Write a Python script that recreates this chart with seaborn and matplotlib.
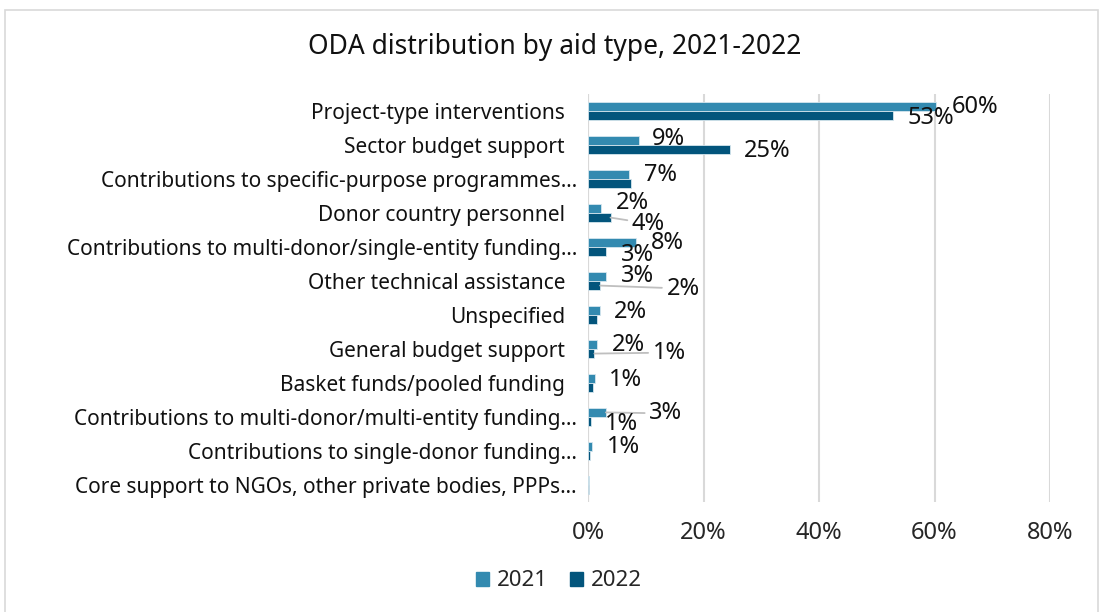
import matplotlib
matplotlib.use("Agg")
import matplotlib.pyplot as plt
import matplotlib.transforms as mtransforms
from matplotlib.patches import Rectangle
import seaborn as sns
import pandas as pd

# Aid types, top to bottom
categories = [
    "Project-type interventions",
    "Sector budget support",
    "Contributions to specific-purpose programmes…",
    "Donor country personnel",
    "Contributions to multi-donor/single-entity funding…",
    "Other technical assistance",
    "Unspecified",
    "General budget support",
    "Basket funds/pooled funding",
    "Contributions to multi-donor/multi-entity funding…",
    "Contributions to single-donor funding…",
    "Core support to NGOs, other private bodies, PPPs…",
]
years = ["2021", "2022"]

# Share of ODA (%)
share_2021 = [60.3, 8.9, 7.1, 2.3, 8.3, 3.2, 2.0, 1.6, 1.2, 3.1, 0.7, 0.1]
share_2022 = [52.8, 24.6, 7.4, 3.9, 3.2, 2.1, 1.6, 1.1, 0.9, 0.6, 0.4, 0.2]

x_ticks = [0, 20, 40, 60, 80]

# Label placement: offset (px) from the end of each bar to the label centre,
# None = label not shown; True in the third slot draws a leader line.
label_offsets_2021 = [(39, 1, False), (29, -1, False), (31, 1, False), (31, -5, False),
                      (31, 1, False), (31, 0, False), (31, 2, False), (31, 1, False),
                      (31, 2, False), (60, 1, True), (31, 1, False), None]
label_offsets_2022 = [(38, 2, False), (37, 1, False), None, (38, 6, True),
                      (31, 3, False), (83, 3, True), None, (75, -1, True),
                      None, (30, 2, False), None, None]

colors = {"2021": "#338AB0", "2022": "#03557C"}

df = pd.DataFrame({
    "category": categories * 2,
    "year": [years[0]] * len(categories) + [years[1]] * len(categories),
    "share": share_2021 + share_2022,
})

sns.set_style("white")
plt.rcParams["font.family"] = ["Noto Sans", "DejaVu Sans"]

fig = plt.figure(figsize=(11.03, 6.12), dpi=100)
ax = fig.add_axes([588 / 1103, 1 - 502 / 612, 462 / 1103, 408 / 612])

sns.barplot(data=df, y="category", x="share", hue="year", order=categories,
            hue_order=years, palette=colors, orient="h", width=0.54,
            edgecolor="#d6e6ee", linewidth=0.6, saturation=1, ax=ax, legend=True)

ax.set_xlim(0, 80)
ax.set_xticks(x_ticks)
ax.set_xticklabels([f"{t}%" for t in x_ticks], fontsize=17)
ax.set_xlabel("")
ax.set_ylabel("")
ax.tick_params(axis="x", pad=14, length=0)
for s in ax.spines.values():
    s.set_visible(False)
ax.grid(axis="x", color="#d9d9d9", linewidth=1.5)
ax.grid(axis="y", visible=False)
ax.set_axisbelow(True)
ax.axvline(0, color="#d9d9d9", linewidth=1.5, zorder=0)

# Category names: truncated names sit a little closer to the axis
y_positions = ax.get_yticks()
ax.set_yticks(y_positions, [""] * len(y_positions))
ax.tick_params(axis="y", length=0)
base = mtransforms.blended_transform_factory(ax.transAxes, ax.transData)
for pos, name in zip(y_positions, categories):
    gap = 11 if name.endswith("…") else 23
    tr = base + mtransforms.ScaledTranslation(-gap / 100, 0, fig.dpi_scale_trans)
    ax.text(0, pos, name, transform=tr, ha="right", va="center_baseline",
            fontsize=15, color="#111111")

# Data labels
for container, values, offsets in zip(ax.containers, [share_2021, share_2022],
                                      [label_offsets_2021, label_offsets_2022]):
    for patch, v, off in zip(container.patches, values, offsets):
        if off is None:
            continue
        dx, dy, leader = off
        y = patch.get_y() + patch.get_height() / 2
        kw = {}
        if leader:
            kw["arrowprops"] = dict(arrowstyle="-", color="#bfbfbf", lw=1.3,
                                    shrinkA=1, shrinkB=0)
        ax.annotate(f"{round(v)}%", xy=(v, y), xytext=(dx, -dy),
                    textcoords="offset pixels", ha="center", va="center",
                    fontsize=17, color="#111111", annotation_clip=False, **kw)

ax.get_legend().remove()
handles = [Rectangle((0, 0), 1, 1, color=colors[y]) for y in years]
fig.legend(handles, years, loc="center", bbox_to_anchor=(559 / 1103, 1 - 581 / 612),
           ncol=2, frameon=False, fontsize=16, handlelength=0.6, handleheight=0.6,
           handletextpad=0.35, columnspacing=1.0)

fig.text(555 / 1103, 1 - 47 / 612, "ODA distribution by aid type, 2021-2022",
         ha="center", va="center", fontsize=19, color="#111111")

# Chart area border
fig.patches.append(Rectangle((5 / 1103, -0.01), 1093 / 1103, 1 - 10 / 612 + 0.01,
                             transform=fig.transFigure, fill=False,
                             edgecolor="#d9d9d9", linewidth=1.2))

fig.savefig("out.png", dpi=100, facecolor="white")
